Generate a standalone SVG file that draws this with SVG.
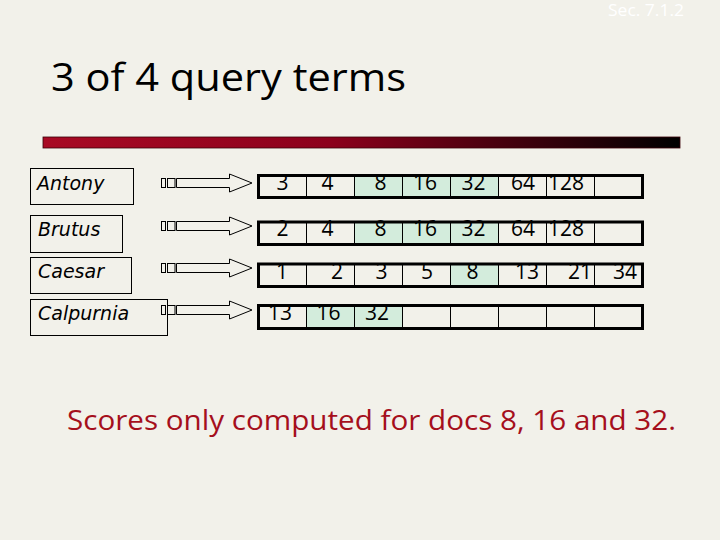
<svg xmlns="http://www.w3.org/2000/svg" width="720" height="540" viewBox="0 0 720 540">
<defs>
<linearGradient id="bar" x1="0" y1="0" x2="1" y2="0">
<stop offset="0" stop-color="#a80a24"/>
<stop offset="0.45" stop-color="#8c001c"/>
<stop offset="1" stop-color="#000000"/>
</linearGradient>
<style>
.term{fill:none;stroke:#000;stroke-width:1}
.tlabel{font-family:"DejaVu Sans",Verdana,sans-serif;font-style:italic;font-size:19px;fill:#000}
.arrow{fill:#f2f1ea;stroke:#000;stroke-width:1}
.box{fill:none;stroke:#000;stroke-width:3}
.div{stroke:#000;stroke-width:1}
.hl{fill:#d3ecdc}
.num{font-family:"Open Sans","Noto Sans",sans-serif;font-size:21px;fill:#000;text-anchor:middle}
</style>
</defs>
<rect width="720" height="540" fill="#f2f1ea"/>
<text x="608" y="16" font-family="Open Sans,Noto Sans,sans-serif" font-size="16" fill="#ffffff" textLength="76" lengthAdjust="spacingAndGlyphs">Sec. 7.1.2</text>
<text x="51" y="91" font-family="Open Sans,Noto Sans,sans-serif" font-size="39" fill="#000" textLength="355" lengthAdjust="spacingAndGlyphs">3 of 4 query terms</text>
<rect x="43" y="137" width="637" height="11" fill="url(#bar)" stroke="#3a0008" stroke-width="0.8"/>

<g id="term-antony"><rect class="term" x="30.5" y="168.5" width="103" height="36"/><text class="tlabel" x="37" y="190">Antony</text></g>
<g id="term-brutus"><rect class="term" x="30.5" y="215.5" width="92" height="37"/><text class="tlabel" x="38" y="236">Brutus</text></g>
<g id="term-caesar"><rect class="term" x="30.5" y="257.5" width="101" height="36"/><text class="tlabel" x="38" y="278">Caesar</text></g>
<g id="term-calpurnia"><rect class="term" x="30.5" y="299.5" width="137" height="36"/><text class="tlabel" x="38" y="320">Calpurnia</text></g>

<g id="connectors">
<g transform="translate(0,183)">
<rect class="arrow" x="161.5" y="-4.5" width="4" height="9"/><rect class="arrow" x="167.5" y="-4.5" width="7.5" height="9"/>
<path class="arrow" d="M176.5,-4.5 H229.5 V-9 L252,0 L229.5,9 V4.5 H176.5 Z"/>
</g>
<g transform="translate(0,226)">
<rect class="arrow" x="161.5" y="-4.5" width="4" height="9"/><rect class="arrow" x="167.5" y="-4.5" width="7.5" height="9"/>
<path class="arrow" d="M176.5,-4.5 H229.5 V-9 L252,0 L229.5,9 V4.5 H176.5 Z"/>
</g>
<g transform="translate(0,268)">
<rect class="arrow" x="161.5" y="-4.5" width="4" height="9"/><rect class="arrow" x="167.5" y="-4.5" width="7.5" height="9"/>
<path class="arrow" d="M176.5,-4.5 H229.5 V-9 L252,0 L229.5,9 V4.5 H176.5 Z"/>
</g>
<g transform="translate(0,310)">
<rect class="arrow" x="161.5" y="-4.5" width="4" height="9"/><rect class="arrow" x="167.5" y="-4.5" width="7.5" height="9"/>
<path class="arrow" d="M176.5,-4.5 H229.5 V-9 L252,0 L229.5,9 V4.5 H176.5 Z"/>
</g>
</g>

<g id="postings-antony">
<rect class="hl" x="354.5" y="175.5" width="144" height="22"/>
<path class="div" d="M306.5,175.5V197.5M354.5,175.5V197.5M402.5,175.5V197.5M450.5,175.5V197.5M498.5,175.5V197.5M546.5,175.5V197.5M594.5,175.5V197.5"/>
<text class="num" y="190"><tspan x="282.5">3</tspan><tspan x="327.5">4</tspan><tspan x="380.5">8</tspan><tspan x="425">16</tspan><tspan x="473.5">32</tspan><tspan x="523">64</tspan><tspan x="566">128</tspan></text>
<rect class="box" x="258.5" y="175.5" width="384" height="22"/>
</g>
<g id="postings-brutus">
<rect class="hl" x="354.5" y="222" width="144" height="22.5"/>
<path class="div" d="M306.5,222V244.5M354.5,222V244.5M402.5,222V244.5M450.5,222V244.5M498.5,222V244.5M546.5,222V244.5M594.5,222V244.5"/>
<text class="num" y="236"><tspan x="282.5">2</tspan><tspan x="327.5">4</tspan><tspan x="380.5">8</tspan><tspan x="425">16</tspan><tspan x="473.5">32</tspan><tspan x="523">64</tspan><tspan x="566">128</tspan></text>
<rect class="box" x="258.5" y="222" width="384" height="22.5"/>
</g>
<g id="postings-caesar">
<rect class="hl" x="450.5" y="264" width="48" height="22.5"/>
<path class="div" d="M306.5,264V286.5M354.5,264V286.5M402.5,264V286.5M450.5,264V286.5M498.5,264V286.5M546.5,264V286.5M594.5,264V286.5"/>
<text class="num" y="279"><tspan x="282">1</tspan><tspan x="337">2</tspan><tspan x="381.5">3</tspan><tspan x="427">5</tspan><tspan x="472.5">8</tspan><tspan x="527">13</tspan><tspan x="580">21</tspan><tspan x="625">34</tspan></text>
<rect class="box" x="258.5" y="264" width="384" height="22.5"/>
</g>
<g id="postings-calpurnia">
<rect class="hl" x="306.5" y="305.5" width="96" height="23"/>
<path class="div" d="M306.5,305.5V328.5M354.5,305.5V328.5M402.5,305.5V328.5M450.5,305.5V328.5M498.5,305.5V328.5M546.5,305.5V328.5M594.5,305.5V328.5"/>
<text class="num" y="320"><tspan x="280">13</tspan><tspan x="328.5">16</tspan><tspan x="377">32</tspan></text>
<rect class="box" x="258.5" y="305.5" width="384" height="23"/>
</g>

<text x="67" y="430" font-family="Open Sans,Noto Sans,sans-serif" font-size="27" fill="#a50f1c" textLength="609" lengthAdjust="spacingAndGlyphs">Scores only computed for docs 8, 16 and 32.</text>
</svg>
